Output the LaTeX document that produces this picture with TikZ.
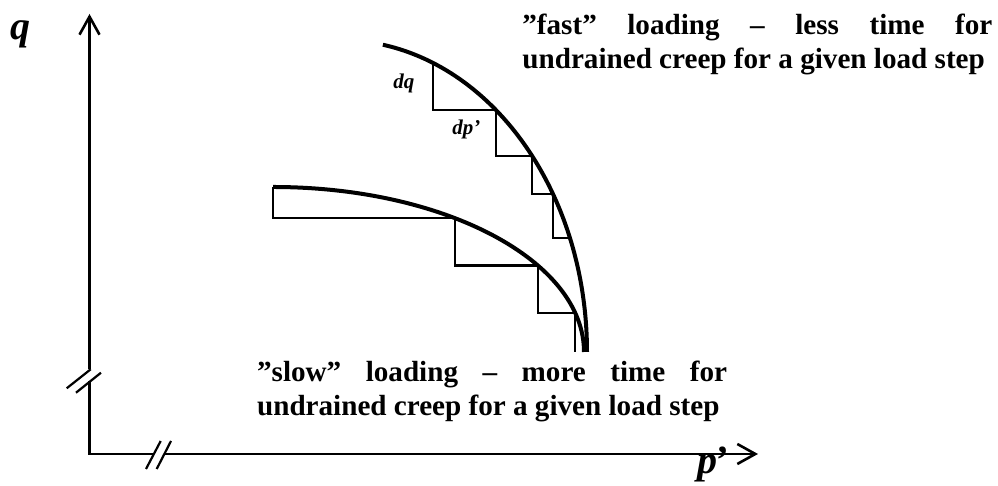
\documentclass[tikz,border=0pt]{standalone}
\usepackage{fontspec}
\setmainfont{Liberation Serif}
\usetikzlibrary{arrows.meta}
\begin{document}
\begin{tikzpicture}[x=0.5pt,y=0.5pt,
  axis/.style={line width=1.3pt},
  tip/.style={-{Straight Barb[length=9pt,width=10pt]}},
  curve/.style={line width=2pt},
  stair/.style={line width=1.1pt},
  brk/.style={line width=1.1pt},
  lbl/.style={inner sep=0pt,anchor=north west,align=left,font=\bfseries\fontsize{14.57pt}{16.9pt}\selectfont},
  sym/.style={inner sep=0pt,anchor=base west,font=\bfseries\itshape\fontsize{20pt}{20pt}\selectfont},
  dsym/.style={inner sep=0pt,anchor=base west,font=\bfseries\itshape\fontsize{10.5pt}{10.5pt}\selectfont}]
\useasboundingbox (0,0) rectangle (998,486);
% axes with breaks
\coordinate (O) at (89.5,32);
\coordinate (qtip) at (89.5,472);
\coordinate (ptip) at (758,32);
\coordinate (vb1) at (89.5,116.7);
\coordinate (vb2) at (89.5,104.5);
\coordinate (hb1) at (154,32);
\coordinate (hb2) at (164,32);
\draw[axis,tip] (vb1) -- (qtip);
\draw[axis] (vb2) -- (O) -- (hb1);
\draw[axis,tip] (hb2) -- (ptip);
\coordinate (vm1a) at (66.7,97.7);
\coordinate (vm1b) at (90.7,116.7);
\coordinate (vm2a) at (76,93.3);
\coordinate (vm2b) at (101,113.3);
\coordinate (hm1a) at (146,17);
\coordinate (hm1b) at (160.7,45);
\coordinate (hm2a) at (156.7,17);
\coordinate (hm2b) at (171,45);
\draw[brk] (vm1a) -- (vm1b);
\draw[brk] (vm2a) -- (vm2b);
\draw[brk] (hm1a) -- (hm1b);
\draw[brk] (hm2a) -- (hm2b);
\node[sym] (q) at (10,446) {q};
\node[sym] (p) at (697,12) {p\kern-1.5pt’};
% fast loading: quarter ellipse round fc
\coordinate (fc) at (340,134);
\coordinate (f0) at ([shift={(fc)}]80:247 and 312);
\coordinate (f1) at ([shift={(fc)}]67.9:247 and 312);
\coordinate (f2) at ([shift={(fc)}]50.8:247 and 312);
\coordinate (f3) at ([shift={(fc)}]39:247 and 312);
\coordinate (f4) at ([shift={(fc)}]30.4:247 and 312);
\coordinate (f5) at ([shift={(fc)}]21.4:247 and 312);
\draw[curve] (f0) arc[start angle=80,end angle=0,x radius=247,y radius=312];
\draw[stair] (f1) |- (f2) |- (f3) |- (f4) |- (f5);
\node[dsym] (dq) at (393,397.7) {dq};
\node[dsym] (dp) at (452,351) {dp’};
% slow loading: quarter ellipse round sc
\coordinate (sc) at (273,134);
\coordinate (s0) at ([shift={(sc)}]90:311 and 165);
\coordinate (s1) at ([shift={(sc)}]54.2:311 and 165);
\coordinate (s2) at ([shift={(sc)}]31.6:311 and 165);
\coordinate (s3) at ([shift={(sc)}]13.8:311 and 165);
\coordinate (s4) at ([shift={(sc)}]0:311 and 165);
\draw[curve] (s0) arc[start angle=90,end angle=0,x radius=311,y radius=165];
\draw[stair] (s0) |- (s1) |- (s2) |- (s3) -- (s3 |- s4);
% labels
\node[lbl] (fast) at (522,472.7) {\makebox[235pt][s]{”fast” loading – less time for}\\undrained creep for a given load step};
\node[lbl] (slow) at (256.7,125.7) {\makebox[235pt][s]{”slow” loading – more time for}\\undrained creep for a given load step};
\end{tikzpicture}
\end{document}
